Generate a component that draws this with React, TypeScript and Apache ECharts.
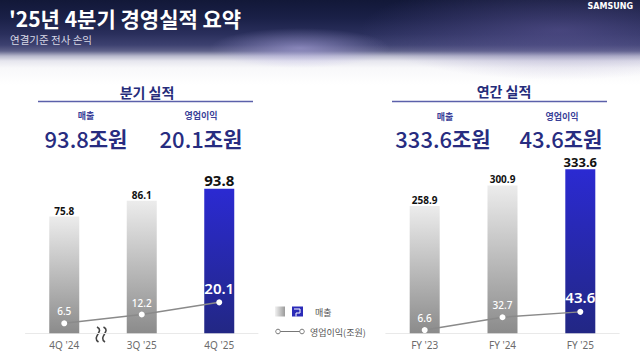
import React, { useEffect, useRef } from "react";
import * as echarts from "echarts";

const quarterCategories = ["4Q '24", "3Q '25", "4Q '25"];
const quarterRevenue = [75.8, 86.1, 93.8];
const quarterProfit = [6.5, 12.2, 20.1];

const yearCategories = ["FY '23", "FY '24", "FY '25"];
const yearRevenue = [258.9, 300.9, 333.6];
const yearProfit = [6.6, 32.7, 43.6];

const titleText = "'25년 4분기 경영실적 요약";
const subtitleText = "연결기준 전사 손익";
const quarterHeader = "분기 실적";
const yearHeader = "연간 실적";
const revenueLabel = "매출";
const profitLabel = "영업이익";
const quarterRevenueSummary = "93.8";
const quarterProfitSummary = "20.1";
const yearRevenueSummary = "333.6";
const yearProfitSummary = "43.6";
const unit = "조원";
const legendRevenue = "매출";
const legendProfit = "영업이익(조원)";

const KR = '"Noto Sans CJK KR", "Noto Sans", sans-serif';
const NAVY = "#272c80";

function grayGrad() {
  return new echarts.graphic.LinearGradient(0, 0, 0, 1, [
    { offset: 0, color: "#ececec" },
    { offset: 1, color: "#8b8b8b" },
  ]);
}
function blueGrad() {
  return new echarts.graphic.LinearGradient(0, 0, 0, 1, [
    { offset: 0, color: "#2b2ad2" },
    { offset: 1, color: "#222784" },
  ]);
}

function barData(values: number[], lastSize: number) {
  return values.map((v, i) => {
    const last = i === values.length - 1;
    return {
      value: v,
      itemStyle: { color: last ? blueGrad() : grayGrad() },
      label: {
        show: true,
        position: "top",
        distance: 1,
        color: "#111",
        fontFamily: '"Noto Sans", sans-serif',
        fontWeight: "bold",
        fontSize: last ? lastSize : 10,
      },
    };
  });
}

function lineData(values: number[]) {
  return values.map((v, i) => {
    const last = i === values.length - 1;
    return {
      value: v,
      label: {
        show: true,
        position: "top",
        distance: 4,
        color: "#ffffff",
        fontFamily: '"Noto Sans", sans-serif',
        fontWeight: last ? 600 : 500,
        fontSize: last ? 15 : 10,
      },
    };
  });
}

function txt(text: string, x: number, y: number, size: number, fill: string, weight: any, align = "left") {
  return {
    type: "text",
    style: {
      text,
      x,
      y,
      fill,
      fontSize: size,
      fontWeight: weight,
      fontFamily: KR,
      align,
      verticalAlign: "middle",
      textAlign: align,
      textVerticalAlign: "middle",
    },
  };
}

function bigNum(num: string, x: number, y: number) {
  return {
    type: "text",
    style: {
      text: `{n|${num}}{k|${unit}}`,
      x,
      y,
      align: "center",
      verticalAlign: "middle",
      textAlign: "center",
      textVerticalAlign: "middle",
      lineHeight: 20,
      rich: {
        n: { fontSize: 22, lineHeight: 20, fontWeight: 500, fontFamily: KR, fill: NAVY },
        k: { fontSize: 21, lineHeight: 20, fontWeight: "bold", fontFamily: KR, fill: NAVY },
      },
    },
  };
}

function squiggle(x: number) {
  return {
    type: "bezierCurve",
    shape: { x1: x, y1: 327, cpx1: x + 8, cpy1: 331, cpx2: x - 6, cpy2: 337, x2: x + 1.5, y2: 342 },
    style: { stroke: "#444444", lineWidth: 1.6, fill: "none" },
  };
}

export default function App() {
  const ref = useRef<HTMLDivElement>(null);
  useEffect(() => {
    if (!ref.current) return;
    const chart = echarts.init(ref.current, undefined, { renderer: "svg" });
    const axisLabel = {
      color: "#6b6b6b",
      fontSize: 10,
      margin: 7,
      fontFamily: '"Noto Sans", sans-serif',
    };
    chart.setOption({
      animation: false,
      grid: [
        { left: 25.5, width: 232.5, top: 179.3, height: 154 },
        { left: 385.8, width: 233.4, top: 161.3, height: 172 },
      ],
      xAxis: [
        {
          type: "category",
          gridIndex: 0,
          data: quarterCategories,
          axisTick: { show: false },
          axisLine: { lineStyle: { color: "#e9e9e9", width: 1 } },
          axisLabel,
        },
        {
          type: "category",
          gridIndex: 1,
          data: yearCategories,
          axisTick: { show: false },
          axisLine: { lineStyle: { color: "#e9e9e9", width: 1 } },
          axisLabel,
        },
      ],
      yAxis: [
        { type: "value", gridIndex: 0, min: 0, max: 100, show: false },
        { type: "value", gridIndex: 1, min: 0, max: 350, show: false },
      ],
      series: [
        {
          type: "bar",
          xAxisIndex: 0,
          yAxisIndex: 0,
          barWidth: 30,
          data: barData(quarterRevenue, 15),
        },
        {
          type: "line",
          xAxisIndex: 0,
          yAxisIndex: 0,
          z: 3,
          symbol: "circle",
          symbolSize: 6,
          itemStyle: { color: "#ffffff" },
          lineStyle: { color: "#8a8a8a", width: 1.5 },
          data: lineData(quarterProfit),
        },
        {
          type: "bar",
          xAxisIndex: 1,
          yAxisIndex: 1,
          barWidth: 30,
          data: barData(yearRevenue, 13),
        },
        {
          type: "line",
          xAxisIndex: 1,
          yAxisIndex: 1,
          z: 3,
          symbol: "circle",
          symbolSize: 6,
          itemStyle: { color: "#ffffff" },
          lineStyle: { color: "#8a8a8a", width: 1.5 },
          data: lineData(yearProfit),
        },
      ],
      graphic: [
        txt(titleText, 9, 18, 21, "#ffffff", "bold"),
        txt(subtitleText, 10, 39, 10.5, "#d9d9e6", "normal"),
        {
          type: "text",
          style: {
            text: "SAMSUNG",
            x: 633,
            y: 6,
            fill: "#ffffff",
            fontSize: 8,
            fontWeight: "bold",
            fontFamily: '"DejaVu Sans", sans-serif',
            align: "right",
            verticalAlign: "middle",
            textAlign: "right",
            textVerticalAlign: "middle",
          },
        },
        txt(quarterHeader, 147, 91.5, 14, "#252c7a", "bold", "center"),
        { type: "line", shape: { x1: 38, y1: 101.5, x2: 253, y2: 101.5 }, style: { stroke: "#5b60aa", lineWidth: 1.5 } },
        txt(yearHeader, 504, 91, 14, "#252c7a", "bold", "center"),
        { type: "line", shape: { x1: 392, y1: 101.5, x2: 607, y2: 101.5 }, style: { stroke: "#5b60aa", lineWidth: 1.5 } },
        txt(revenueLabel, 86, 115.5, 9, "#3a3f98", "bold", "center"),
        txt(profitLabel, 201, 115.5, 9, "#3a3f98", "bold", "center"),
        txt(revenueLabel, 445, 116, 9, "#3a3f98", "bold", "center"),
        txt(profitLabel, 562, 116, 9, "#3a3f98", "bold", "center"),
        bigNum(quarterRevenueSummary, 86, 137.5),
        bigNum(quarterProfitSummary, 201, 137.5),
        bigNum(yearRevenueSummary, 443, 138),
        bigNum(yearProfitSummary, 561, 138),
        squiggle(97),
        squiggle(103.5),
        {
          type: "rect",
          shape: { x: 275, y: 306.5, width: 10, height: 10 },
          style: {
            fill: new echarts.graphic.LinearGradient(0, 0, 1, 0, [
              { offset: 0, color: "#f2f2f2" },
              { offset: 1, color: "#9a9a9a" },
            ]),
          },
        },
        {
          type: "rect",
          shape: { x: 292, y: 306.5, width: 11, height: 10 },
          style: { fill: "#2b2bb8" },
        },
        {
          type: "polyline",
          shape: { points: [[294, 309], [300, 309], [300, 313], [296, 313], [296, 316.5]] },
          style: { stroke: "#ffffff", lineWidth: 1, fill: "none" },
        },
        txt(legendRevenue, 315, 312, 9, "#555555", "normal"),
        { type: "line", shape: { x1: 278, y1: 331.5, x2: 302, y2: 331.5 }, style: { stroke: "#777777", lineWidth: 1 } },
        { type: "circle", shape: { cx: 278, cy: 331.5, r: 2.3 }, style: { fill: "#ffffff", stroke: "#777777", lineWidth: 1 } },
        { type: "circle", shape: { cx: 302, cy: 331.5, r: 2.3 }, style: { fill: "#ffffff", stroke: "#777777", lineWidth: 1 } },
        txt(legendProfit, 310, 332, 9, "#555555", "normal"),
      ],
    });
    return () => chart.dispose();
  }, []);

  return (
    <div
      style={{
        position: "fixed",
        left: 0,
        top: 0,
        width: 640,
        height: 357,
        background:
          "radial-gradient(ellipse 90px 20px at 300px 48px, rgba(185,178,235,0.55), rgba(185,178,235,0) 100%)," +
          "radial-gradient(ellipse 200px 50px at 560px 30px, rgba(110,100,170,0.45), rgba(110,100,170,0) 100%)," +
          "linear-gradient(180deg, #121838 0px, #1a2047 18px, #2a2f5c 34px, #3d4170 45px, #5e6189 51px, #b7b8cc 56px, #e6e6ee 61px, #f8f8fa 68px, #ffffff 85px)",
      }}
    >
      <div ref={ref} style={{ width: 640, height: 357 }} />
    </div>
  );
}
